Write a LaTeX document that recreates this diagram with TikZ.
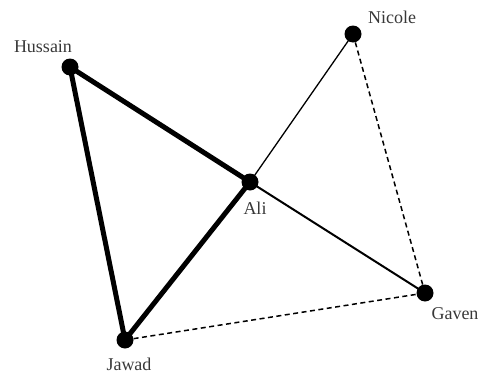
\documentclass[tikz,border=0pt]{standalone}
\usepackage{fontspec}
\setmainfont{Liberation Serif}
\begin{document}
\begin{tikzpicture}[x=1pt,y=-1pt,
  vtx/.style={circle,fill=black,inner sep=0pt,minimum size=17pt},
  lab/.style={text=black!78,font=\fontsize{18}{21}\selectfont,inner sep=0pt},
  thickedge/.style={line width=5pt},
  medge/.style={line width=2pt},
  thinedge/.style={line width=1.3pt},
  dedge/.style={line width=1.5pt,dash pattern=on 5pt off 3.5pt}]
\useasboundingbox (0,0) rectangle (480,375);
\node[vtx] (h) at (70,67) {};
\node[vtx] (n) at (353,34) {};
\node[vtx] (a) at (250,182) {};
\node[vtx] (g) at (425,293) {};
\node[vtx] (j) at (125,340) {};
\node[lab] (hl) at (43,47) {Hussain};
\node[lab] (nl) at (392,17) {Nicole};
\node[lab] (al) at (255,208) {Ali};
\node[lab] (gl) at (455,314) {Gaven};
\node[lab] (jl) at (129,364) {Jawad};
\draw[thickedge] (h.center) -- (a.center);
\draw[thickedge] (h.center) -- (j.center);
\draw[thickedge] (j.center) -- (a.center);
\draw[thinedge] (a.center) -- (n.center);
\draw[medge] (a.center) -- (g.center);
\draw[dedge] (n) -- (g);
\draw[dedge] (j) -- (g);
\end{tikzpicture}
\end{document}
